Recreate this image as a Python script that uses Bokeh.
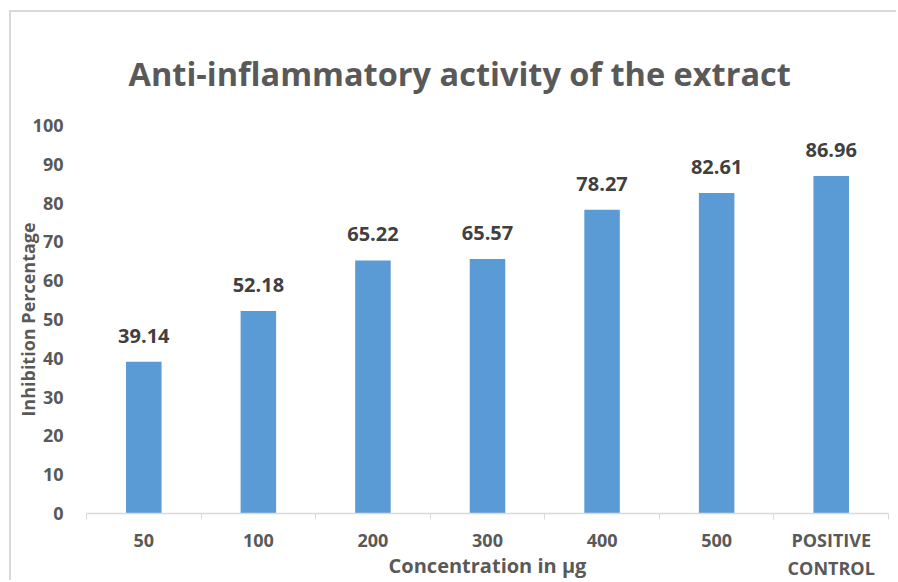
from bokeh.plotting import figure
from bokeh.models import Range1d, FixedTicker, ColumnDataSource
from bokeh.core.properties import value
from bokeh.embed import file_html
from bokeh.resources import INLINE

title_text = "Anti-inflammatory activity of the extract"
categories = ["50", "100", "200", "300", "400", "500", "POSITIVE\nCONTROL"]
inhibition = [39.14, 52.18, 65.22, 65.57, 78.27, 82.61, 86.96]
y_ticks = [0, 10, 20, 30, 40, 50, 60, 70, 80, 90, 100]

FONT = "Open Sans"
centers = [i + 0.5 for i in range(len(categories))]
bounds = [i for i in range(len(categories) + 1)]

src = ColumnDataSource(dict(x=centers, y=inhibition,
                            lab=["%.2f" % v for v in inhibition]))

p = figure(width=887, height=570, output_backend="svg", toolbar_location=None,
           x_range=Range1d(0, len(categories)), y_range=Range1d(0, 100),
           min_border_left=75, min_border_right=10, min_border_top=113,
           min_border_bottom=69, title=title_text)

p.styles = {"margin-left": "9px", "margin-top": "10px",
            "border-left": "2px solid #d9d9d9", "border-top": "2px solid #d9d9d9"}

p.title.align = "left"
p.title.offset = 42
p.title.standoff = 60
p.title.text_font = FONT
p.title.text_font_size = "32.5px"
p.title.text_font_style = "bold"
p.title.text_color = "#595959"

p.outline_line_color = None
p.xgrid.grid_line_color = None
p.ygrid.grid_line_color = None

p.vbar(x="x", top="y", width=0.31, source=src, color="#5b9bd5", line_color=None)
p.text(x="x", y="y", text="lab", source=src, y_offset=-26,
       text_align="center", text_baseline="middle",
       text_font=value(FONT), text_font_style="bold", text_font_size="20px",
       text_color="#404040")

xa = p.xaxis[0]
xa.ticker = FixedTicker(ticks=centers, minor_ticks=bounds)
xa.major_label_overrides = {c: lab for c, lab in zip(centers, categories)}
xa.major_tick_out = 0
xa.major_tick_in = 0
xa.minor_tick_out = 6
xa.minor_tick_in = 0
xa.minor_tick_line_color = "#d9d9d9"
xa.axis_line_color = "#d9d9d9"
xa.axis_line_width = 1.5
xa.major_label_standoff = 8
xa.major_label_text_font = FONT
xa.major_label_text_font_style = "bold"
xa.major_label_text_font_size = "18px"
xa.major_label_text_color = "#595959"
xa.axis_label = "Concentration in µg"
xa.axis_label_text_font = FONT
xa.axis_label_text_font_style = "bold"
xa.axis_label_text_font_size = "20px"
xa.axis_label_text_color = "#595959"
xa.axis_label_standoff = -31

ya = p.yaxis[0]
ya.ticker = FixedTicker(ticks=y_ticks)
ya.axis_line_color = None
ya.major_tick_line_color = None
ya.minor_tick_line_color = None
ya.major_label_standoff = 17
ya.major_label_text_font = FONT
ya.major_label_text_font_style = "bold"
ya.major_label_text_font_size = "18px"
ya.major_label_text_color = "#595959"
ya.axis_label = "Inhibition Percentage"
ya.axis_label_text_font = FONT
ya.axis_label_text_font_style = "bold"
ya.axis_label_text_font_size = "18px"
ya.axis_label_text_color = "#595959"
ya.axis_label_standoff = -10

open("out.html", "w").write(file_html(p, INLINE))
